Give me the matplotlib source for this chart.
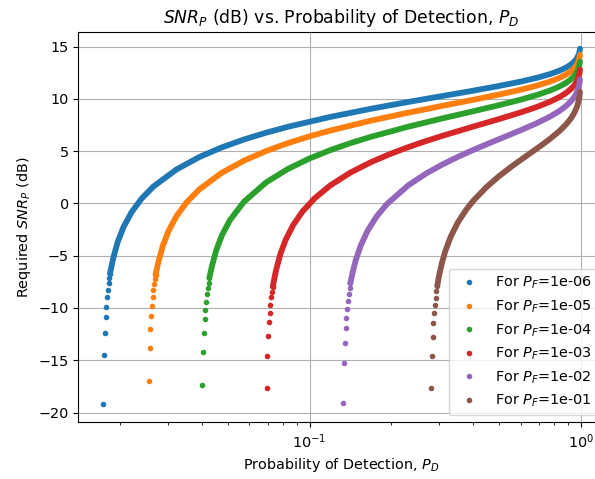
import matplotlib

matplotlib.use("Agg")
import matplotlib.pyplot as plt

# false alarm probabilities, one curve each
pf_values = [1e-6, 1e-5, 1e-4, 1e-3, 1e-2, 1e-1]

# sparse dots at the foot of each curve (PD, SNR dB)
tail_pd_1e6 = [0.017337, 0.017456, 0.017568, 0.017693, 0.017800, 0.017924, 0.018037, 0.018158, 0.018261, 0.018367]
tail_snr_1e6 = [-19.15, -14.52, -12.42, -10.89, -9.90, -8.98, -8.28, -7.64, -7.16, -6.72]
tail_pd_1e5 = [0.025524, 0.025698, 0.025873, 0.026038, 0.026212, 0.026391, 0.026572, 0.026732, 0.026892, 0.027044]
tail_snr_1e5 = [-16.98, -13.82, -12.01, -10.80, -9.81, -8.98, -8.28, -7.74, -7.26, -6.85]
tail_pd_1e4 = [0.040265, 0.040534, 0.040807, 0.041095, 0.041343, 0.041609, 0.041894, 0.042158, 0.042443, 0.042727]
tail_snr_1e4 = [-17.36, -14.24, -12.42, -11.08, -10.19, -9.40, -8.69, -8.12, -7.58, -7.10]
tail_pd_1e3 = [0.069488, 0.069949, 0.070431, 0.070933, 0.071348, 0.071795, 0.072322, 0.072757, 0.073191]
tail_snr_1e3 = [-17.65, -14.56, -12.71, -11.37, -10.51, -9.74, -8.98, -8.44, -7.96]
tail_pd_1e2 = [0.133029, 0.133936, 0.134794, 0.135742, 0.136593, 0.137480, 0.138429, 0.139439, 0.140429, 0.141368]
tail_snr_1e2 = [-19.08, -15.26, -13.35, -11.91, -10.93, -10.10, -9.36, -8.69, -8.12, -7.64]
tail_pd_1e1 = [0.280498, 0.282367, 0.284270, 0.286279, 0.288003, 0.289957, 0.291836, 0.293922, 0.295778]
tail_snr_1e1 = [-17.68, -14.56, -12.74, -11.40, -10.51, -9.68, -9.01, -8.37, -7.87]

# dense part of each curve, where the dots merge into a band
band_pd_1e6 = [0.018871, 0.019627, 0.020612, 0.022074, 0.024103, 0.026597, 0.032295, 0.039165, 0.047426, 0.057323,
               0.069138, 0.083173, 0.119203, 0.167982, 0.231475, 0.310026, 0.401312, 0.5, 0.598688, 0.689974,
               0.768525, 0.832018, 0.880797, 0.916827, 0.942677, 0.960835, 0.973403, 0.982014, 0.987872, 0.991837,
               0.9942]
band_snr_1e6 = [-5.263, -3.669, -2.258, -0.834, 0.500, 1.628, 3.242, 4.427, 5.351, 6.113,
                6.761, 7.325, 8.270, 9.046, 9.704, 10.275, 10.780, 11.232, 11.641, 12.015,
                12.359, 12.678, 12.975, 13.253, 13.514, 13.761, 13.994, 14.215, 14.425, 14.626,
                14.792]
band_pd_1e5 = [0.027682, 0.028780, 0.030211, 0.032331, 0.035268, 0.039165, 0.047426, 0.057323, 0.069138, 0.083173,
               0.09975, 0.119203, 0.167982, 0.231475, 0.310026, 0.401312, 0.5, 0.598688, 0.689974, 0.768525,
               0.832018, 0.880797, 0.916827, 0.942677, 0.960835, 0.973403, 0.982014, 0.987872, 0.991837, 0.9942]
band_snr_1e5 = [-5.642, -4.048, -2.637, -1.213, 0.121, 1.325, 2.923, 4.088, 5.005, 5.762,
                6.406, 6.966, 7.908, 8.681, 9.337, 9.907, 10.410, 10.861, 11.270, 11.643,
                11.987, 12.305, 12.602, 12.879, 13.140, 13.386, 13.619, 13.840, 14.051, 14.223]
band_pd_1e4 = [0.043613, 0.045311, 0.047524, 0.050795, 0.057323, 0.069138, 0.083173, 0.09975, 0.119203, 0.141851,
               0.167982, 0.231475, 0.310026, 0.401312, 0.5, 0.598688, 0.689974, 0.768525, 0.832018, 0.880797,
               0.916827, 0.942677, 0.960835, 0.973403, 0.982014, 0.987872, 0.991837, 0.9942]
band_snr_1e4 = [-6.057, -4.463, -3.052, -1.628, 0.163, 2.005, 3.294, 4.286, 5.093, 5.773,
                6.360, 7.340, 8.139, 8.813, 9.396, 9.910, 10.369, 10.785, 11.164, 11.513,
                11.835, 12.136, 12.416, 12.680, 12.929, 13.164, 13.387, 13.570]
band_pd_1e3 = [0.075058, 0.077882, 0.081549, 0.086948, 0.094362, 0.104198, 0.119203, 0.141851, 0.167982, 0.197816,
               0.231475, 0.268941, 0.310026, 0.401312, 0.5, 0.598688, 0.689974, 0.768525, 0.832018, 0.880797,
               0.916827, 0.942677, 0.960835, 0.973403, 0.982014, 0.987872, 0.991837, 0.9942]
band_snr_1e3 = [-6.517, -4.923, -3.512, -2.088, -0.754, 0.461, 1.719, 2.964, 3.929, 4.719,
                5.386, 5.965, 6.475, 7.344, 8.068, 8.688, 9.231, 9.713, 10.147, 10.541,
                10.902, 11.236, 11.546, 11.835, 12.106, 12.361, 12.602, 12.799]
band_pd_1e2 = [0.144301, 0.148045, 0.154463, 0.163828, 0.176532, 0.193100, 0.231475, 0.268941, 0.310026, 0.354344,
               0.401312, 0.450166, 0.5, 0.598688, 0.689974, 0.768525, 0.832018, 0.880797, 0.916827, 0.942677,
               0.960835, 0.973403, 0.982014, 0.987872, 0.991837, 0.9942]
band_snr_1e2 = [-6.574, -5.437, -4.026, -2.602, -1.268, -0.053, 1.737, 2.855, 3.743, 4.479,
                5.109, 5.658, 6.146, 6.982, 7.683, 8.286, 8.816, 9.288, 9.713, 10.100,
                10.456, 10.784, 11.090, 11.375, 11.643, 11.861]
band_pd_1e1 = [0.301364, 0.307718, 0.316304, 0.331633, 0.351875, 0.377350, 0.401312, 0.450166, 0.5, 0.549834,
               0.598688, 0.645656, 0.689974, 0.731059, 0.768525, 0.832018, 0.880797, 0.916827, 0.942677, 0.960835,
               0.973403, 0.982014, 0.987872, 0.991837, 0.9942]
band_snr_1e1 = [-6.744, -5.698, -4.609, -3.185, -1.851, -0.636, 0.240, 1.583, 2.607, 3.435,
                4.130, 4.728, 5.254, 5.723, 6.147, 6.886, 7.518, 8.069, 8.558, 8.997,
                9.396, 9.761, 10.098, 10.411, 10.663]

tails = [
    (tail_pd_1e6, tail_snr_1e6),
    (tail_pd_1e5, tail_snr_1e5),
    (tail_pd_1e4, tail_snr_1e4),
    (tail_pd_1e3, tail_snr_1e3),
    (tail_pd_1e2, tail_snr_1e2),
    (tail_pd_1e1, tail_snr_1e1),
]
bands = [
    (band_pd_1e6, band_snr_1e6),
    (band_pd_1e5, band_snr_1e5),
    (band_pd_1e4, band_snr_1e4),
    (band_pd_1e3, band_snr_1e3),
    (band_pd_1e2, band_snr_1e2),
    (band_pd_1e1, band_snr_1e1),
]

# reference text renders a touch larger than the 10pt default
plt.rcParams["font.size"] = 10.35

fig = plt.figure(figsize=(5.95, 4.79), dpi=100)
# the original axes runs past the right edge of the picture
ax = fig.add_axes([0.1319, 0.1184, 0.8842, 0.8154])

for i, (pf, (tpd, tsnr), (bpd, bsnr)) in enumerate(zip(pf_values, tails, bands)):
    color = f"C{i}"
    ax.plot(tpd, tsnr, ".", color=color, ms=6, label=f"For $P_F$={pf:.0e}")
    ax.plot([tpd[-1]] + bpd, [tsnr[-1]] + bsnr, "-", color=color, lw=4.2,
            solid_capstyle="round", solid_joinstyle="round")

ax.set_xscale("log")
ax.set_xlim(0.01406, 1.225)
ax.set_ylim(-20.93, 16.42)
ax.grid(True)
ax.set_title(r"$SNR_P$ (dB) vs. Probability of Detection, $P_D$")
ax.set_xlabel("Probability of Detection, $P_D$")
ax.set_ylabel("Required $SNR_P$ (dB)")
ax.legend(loc="lower right")

fig.savefig("out.png", dpi=100)
